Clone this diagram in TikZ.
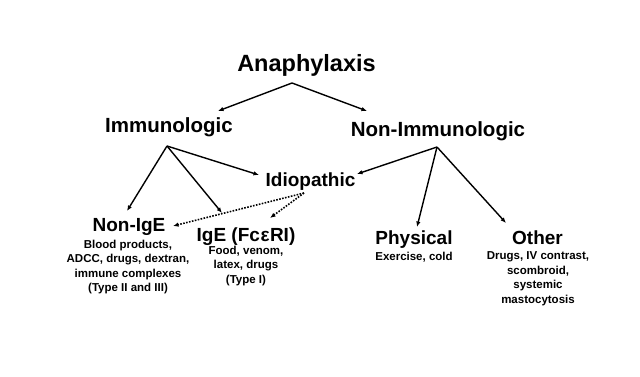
\documentclass[tikz,border=0pt]{standalone}
\usepackage{fontspec}
\setmainfont{Liberation Sans}
\usetikzlibrary{arrows.meta}
\begin{document}
\begin{tikzpicture}[x=1pt,y=-1pt,
  big/.style={font=\fontsize{23.5}{28}\selectfont\bfseries, inner sep=0pt, anchor=base},
  mid/.style={font=\fontsize{20.5}{24}\selectfont\bfseries, inner sep=0pt, anchor=base},
  sub/.style={font=\fontsize{19}{22}\selectfont\bfseries, inner sep=0pt, anchor=base},
  desc/.style={font=\fontsize{11.5}{14.5}\selectfont\bfseries, inner sep=0pt, anchor=north, align=center},
  arr/.style={-{Latex[length=5.5pt,width=4.5pt]}, line width=1.4pt},
  dotarr/.style={-{Latex[length=5.5pt,width=4.5pt]}, line width=1.6pt, dash pattern=on 1.6pt off 1.4pt}
]
\useasboundingbox (0,0) rectangle (640,377);
\node[big] (ana) at (306.5,72) {Anaphylaxis};
\node[mid] (imm) at (169,133) {Immunologic};
\node[mid] (nonimm) at (438,137) {Non-Immunologic};
\node[sub] (idio) at (310.5,186) {Idiopathic};
\node[sub] (nonige) at (129,231) {Non-IgE};
\node[sub] (ige) at (246,241) {IgE (Fc\kern0.5pt ε\kern0.5pt RI)};
\node[sub] (phys) at (414,244) {Physical};
\node[sub] (other) at (537.5,244) {Other};
\node[desc] (nonigedesc) at (128,239.5) {Blood products,\\ADCC, drugs, dextran,\\immune complexes\\(Type II and III)};
\node[desc] (igedesc) at (246,245.5) {Food, venom,\\latex, drugs\\(Type I)};
\node[desc] (physdesc) at (414,251.5) {Exercise, cold};
\node[desc] (otherdesc) at (538,251.5) {Drugs, IV contrast,\\scombroid,\\systemic\\mastocytosis};
% fork points and tips
\coordinate (anafork) at (292,83);
\coordinate (immtip) at (218,111);
\coordinate (nonimmtip) at (367,111);
\coordinate (immfork) at (167,146);
\coordinate (nonigetip) at (127,211);
\coordinate (igetip) at (222,213);
\coordinate (idiotipL) at (259,175);
\coordinate (nonimmfork) at (437,147);
\coordinate (idiotipR) at (357,174);
\coordinate (phystip) at (417,227);
\coordinate (othertip) at (506,223);
\coordinate (idiofork) at (304,193);
\coordinate (nonigedot) at (173,226);
\coordinate (igedot) at (270,218);
\draw[arr] (anafork) -- (immtip);
\draw[arr] (anafork) -- (nonimmtip);
\draw[arr] (immfork) -- (nonigetip);
\draw[arr] (immfork) -- (igetip);
\draw[arr] (immfork) -- (idiotipL);
\draw[arr] (nonimmfork) -- (idiotipR);
\draw[arr] (nonimmfork) -- (phystip);
\draw[arr] (nonimmfork) -- (othertip);
\draw[dotarr] (idiofork) -- (nonigedot);
\draw[dotarr] (idiofork) -- (igedot);
\end{tikzpicture}
\end{document}
